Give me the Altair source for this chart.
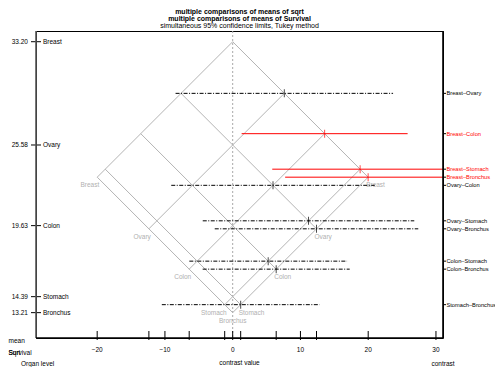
import altair as alt
import pandas as pd

# ---- data ----
levels = ["Breast", "Ovary", "Colon", "Stomach", "Bronchus"]
means = [33.20, 25.58, 19.63, 14.39, 13.21]

contrasts = ["Breast–Ovary", "Breast–Colon", "Breast–Stomach", "Breast–Bronchus",
             "Ovary–Colon", "Ovary–Stomach", "Ovary–Bronchus",
             "Colon–Stomach", "Colon–Bronchus", "Stomach–Bronchus"]
estimates = [7.62, 13.57, 18.81, 19.99, 5.95, 11.19, 12.37, 5.24, 6.42, 1.18]
heights = [29.39, 26.415, 23.795, 23.205, 22.605, 19.985, 19.395, 17.01, 16.42, 13.80]
lower = [-8.43, 1.32, 5.84, 7.74, -9.07, -4.42, -2.65, -6.40, -4.43, -10.46]
upper = [23.67, 25.82, 31.78, 32.24, 20.97, 26.80, 27.39, 16.88, 17.27, 12.82]
significant = [False, True, True, True, False, False, False, False, False, False]

x_labeled_ticks = [-20, -10, 0, 10, 20, 30]
x_minor_ticks = [-12.37, -6.42, -1.18, 1.18, 6.42, 12.37]

title_lines = ["multiple comparisons of means of sqrt",
               "multiple comparisons of means of Survival"]
subtitle_line = "simultaneous 95% confidence limits, Tukey method"

# ---- layout constants ----
W, H = 407, 307
FONT = "Liberation Sans"
FS = 6.5
xs = alt.Scale(domain=[-29.03, 31.04], nice=False, zero=False)
ys = alt.Scale(domain=[11.34, 33.99], nice=False, zero=False)

# ---- tables ----
mmax, mmin = max(means), min(means)
segs = []
for lv, m in zip(levels, means):
    for s in (1, -1):
        segs.append({"x": s * (m - mmax), "y": (m + mmax) / 2,
                     "x2": s * (m - mmin), "y2": (m + mmin) / 2})
seg_df = pd.DataFrame(segs)

lab_left = pd.DataFrame([{"x": -(m - mmin), "y": (m + mmin) / 2, "t": lv}
                         for lv, m in zip(levels, means) if m != mmin])
lab_right = pd.DataFrame([{"x": (m - mmin), "y": (m + mmin) / 2, "t": lv}
                          for lv, m in zip(levels, means) if m != mmin])
lab_mid = pd.DataFrame([{"x": 0.0, "y": mmin, "t": lv}
                        for lv, m in zip(levels, means) if m == mmin])

ci = pd.DataFrame({"c": contrasts, "est": estimates, "h": heights,
                   "lo": lower, "hi": upper, "sig": significant})
ci["col"] = ["#ff0000" if s else "#000000" for s in significant]

lv_df = pd.DataFrame({"lv": levels, "m": means})
tick_df = pd.DataFrame({"v": x_labeled_ticks + x_minor_ticks,
                        "lab": [str(v) if v >= 0 else "\u2212" + str(-v) for v in x_labeled_ticks]
                        + [""] * len(x_minor_ticks)})

X = lambda f: alt.X(f, type="quantitative", scale=xs, axis=None)
Y = lambda f: alt.Y(f, type="quantitative", scale=ys, axis=None)

one = pd.DataFrame({"k": [0]})

zero_line = alt.Chart(one).mark_rule(color="#a8a8a8", strokeDash=[2, 2], strokeWidth=1).encode(
    x=alt.X("datum_zero:Q", scale=xs, axis=None), y=alt.value(0), y2=alt.value(H)
).transform_calculate(datum_zero="0")

diamond = alt.Chart(seg_df).mark_rule(color="#b4b4b4", strokeWidth=1).encode(
    x=X("x"), y=Y("y"), x2="x2", y2="y2")

txt_kw = dict(font=FONT, fontSize=FS, color="#b0b0b0", baseline="middle", dy=8)
lab_l = alt.Chart(lab_left).mark_text(align="right", dx=2, **txt_kw).encode(
    x=X("x"), y=Y("y"), text="t")
lab_r = alt.Chart(lab_right).mark_text(align="left", dx=-2, **txt_kw).encode(
    x=X("x"), y=Y("y"), text="t")
lab_m = alt.Chart(lab_mid).mark_text(align="center", **txt_kw).encode(
    x=X("x"), y=Y("y"), text="t")

ci_ns = alt.Chart(ci).transform_filter("!datum.sig").mark_rule(
    color="#000000", strokeWidth=1, strokeDash=[4, 1.5, 1, 1.5], clip=True).encode(
    x=X("lo"), x2="hi", y=Y("h"))
ci_s = alt.Chart(ci).transform_filter("datum.sig").mark_rule(
    color="#ff0000", strokeWidth=1, clip=True).encode(
    x=X("lo"), x2="hi", y=Y("h"))
est = alt.Chart(ci).mark_tick(orient="vertical", size=8, thickness=1).encode(
    x=X("est"), y=Y("h"), color=alt.Color("col:N", scale=None))

# right axis: contrast labels
r_ticks = alt.Chart(ci).mark_rule(color="#000000", strokeWidth=1).encode(
    x=alt.value(W), x2=alt.value(W + 3), y=Y("h"))
r_labels = alt.Chart(ci).mark_text(align="left", baseline="middle", font=FONT, fontSize=5.7).encode(
    x=alt.value(W + 3.5), y=Y("h"), text="c", color=alt.Color("col:N", scale=None))

# left axis: means
l_ticks = alt.Chart(lv_df).mark_rule(color="#000000", strokeWidth=1).encode(
    x=alt.value(-5), x2=alt.value(5), y=Y("m"))
l_nums = alt.Chart(lv_df).mark_text(align="right", baseline="middle", font=FONT, fontSize=FS).encode(
    x=alt.value(-8), y=Y("m"), text=alt.Text("m:Q", format=".2f"))
l_names = alt.Chart(lv_df).mark_text(align="left", baseline="middle", font=FONT, fontSize=FS).encode(
    x=alt.value(7), y=Y("m"), text="lv")

# bottom axis
b_ticks = alt.Chart(tick_df).mark_rule(color="#000000", strokeWidth=1).encode(
    x=X("v"), y=alt.value(H - 7), y2=alt.value(H + 2))
b_labels = alt.Chart(tick_df).mark_text(align="center", baseline="middle", font=FONT, fontSize=FS).encode(
    x=X("v"), y=alt.value(H + 12), text="lab")

# frame emphasis lines
frame = alt.Chart(pd.DataFrame({
    "x": [0, 0, W], "x2": [0, W, W], "y": [0, H, 0], "y2": [H, H, H],
    "c": ["#555555", "#000000", "#000000"]})).mark_rule(strokeWidth=1.6).encode(
    x=alt.X("x:Q", scale=None, axis=None), x2="x2", y=alt.Y("y:Q", scale=None, axis=None), y2="y2",
    color=alt.Color("c:N", scale=None))

# titles and axis captions
def caption(text, x, y, align="center", bold=False, size=7):
    return alt.Chart(one).mark_text(align=align, baseline="middle", font=FONT, fontSize=size,
                                   fontWeight="bold" if bold else "normal", color="#000000").encode(
        x=alt.value(x), y=alt.value(y), text=alt.value(text))

captions = [
    caption(title_lines[0], W / 2, -19.3, bold=True),
    caption(title_lines[1], W / 2, -12.0, bold=True),
    caption(subtitle_line, W / 2, -4.8),
    caption("contrast value", W / 2, 331.5, size=FS),
    caption("contrast", W, 333, size=FS),
    caption("mean", -27.5, 310, align="left", size=FS),
    caption("Survival", -27.5, 321.5, align="left", size=FS),
    caption("Sqrt", -27.5, 321.5, align="left", size=FS),
    caption("Organ level", -15, 333, align="left", size=FS),
]

chart = alt.layer(
    zero_line, diamond, lab_l, lab_r, lab_m, ci_ns, ci_s, est,
    r_ticks, r_labels, l_ticks, l_nums, l_names, b_ticks, b_labels, frame, *captions
).properties(
    width=W, height=H,
    autosize=alt.AutoSizeParams(type="none"),
    padding={"left": 28, "top": 23, "right": 52, "bottom": 29},
).configure_view(stroke="#000000", strokeWidth=1)

chart.save("out.html", embed_options={"renderer": "svg", "actions": False})
